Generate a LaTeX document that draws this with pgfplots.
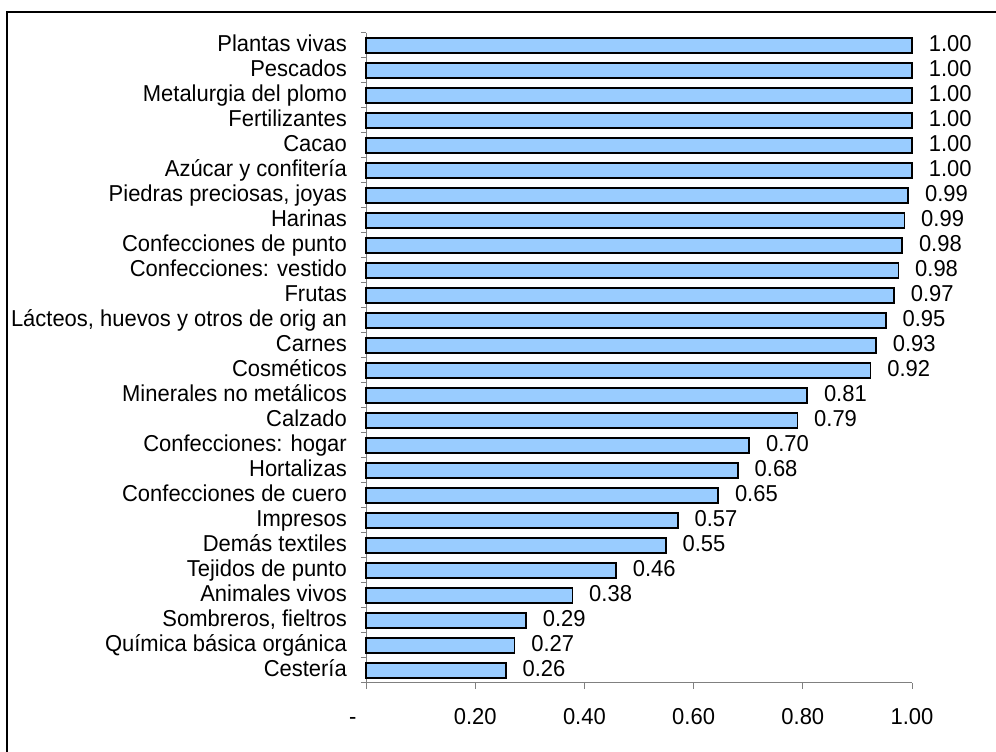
\documentclass[border=0pt]{standalone}
\usepackage{fontspec}
\setmainfont{Liberation Sans}[FakeStretch=0.955]
\usepackage{pgfplots}
\pgfplotsset{compat=1.18}
\definecolor{barblue}{HTML}{99CCFF}
\definecolor{axisgray}{HTML}{808080}
\newcommand{\lf}{\fontsize{23bp}{25bp}\selectfont}
\begin{document}
\begin{tikzpicture}[x=1bp,y=1bp]
\useasboundingbox (0,0) rectangle (996,752);
\draw[line width=2bp] (7,-20) -- (7,740) -- (1020,740);
\begin{axis}[
  at={(366bp,69bp)}, anchor=south west, scale only axis,
  width=546bp, height=650bp,
  xmin=0, xmax=1, ymin=-0.5, ymax=25.5,
  axis x line*=bottom, axis y line*=left,
  axis line style={draw=axisgray, line width=1bp, -},
  tick align=outside,
  tick style={draw=axisgray, line width=1bp},
  major tick length=6bp, minor tick length=5bp,
  major y tick style={draw=none},
  xtick={0,0.2,0.4,0.6,0.8,1},
  xticklabels={{\makebox[0pt][r]{-\hspace{9.5bp}}},0.20,0.40,0.60,0.80,1.00},
  ytick={0,...,25},
  yticklabels={Cestería,Química básica orgánica,{Sombreros, fieltros},Animales vivos,Tejidos de punto,Demás textiles,Impresos,Confecciones de cuero,Hortalizas,Confecciones: hogar,Calzado,Minerales no metálicos,Cosméticos,Carnes,{Lácteos, huevos y otros de orig an},Frutas,Confecciones: vestido,Confecciones de punto,Harinas,{Piedras preciosas, joyas},Azúcar y confitería,Cacao,Fertilizantes,Metalurgia del plomo,Pescados,Plantas vivas},
  minor ytick={-0.5,0.5,...,25.5},
  yticklabel style={font=\lf, anchor=east, inner sep=0pt, xshift=-13bp, text height=16.5bp, text depth=4.8bp},
  xticklabel style={font=\lf, anchor=north, inner sep=0pt, yshift=-19bp, text height=16.5bp, text depth=4.8bp},
  xbar, bar width=15.5bp,
  nodes near coords, point meta=explicit symbolic,
  nodes near coords style={font=\lf, anchor=west, inner sep=0pt, xshift=16bp, text height=16.5bp, text depth=4.8bp},
  clip=false,
]
\addplot[fill=barblue, draw=black, line width=1.7bp] coordinates {
(0.256,0) [0.26]
(0.272,1) [0.27]
(0.293,2) [0.29]
(0.378,3) [0.38]
(0.458,4) [0.46]
(0.549,5) [0.55]
(0.571,6) [0.57]
(0.645,7) [0.65]
(0.681,8) [0.68]
(0.702,9) [0.70]
(0.790,10) [0.79]
(0.808,11) [0.81]
(0.924,12) [0.92]
(0.934,13) [0.93]
(0.952,14) [0.95]
(0.967,15) [0.97]
(0.975,16) [0.98]
(0.982,17) [0.98]
(0.986,18) [0.99]
(0.993,19) [0.99]
(1.000,20) [1.00]
(1.000,21) [1.00]
(1.000,22) [1.00]
(1.000,23) [1.00]
(1.000,24) [1.00]
(1.000,25) [1.00]
};
\end{axis}
\end{tikzpicture}
\end{document}
